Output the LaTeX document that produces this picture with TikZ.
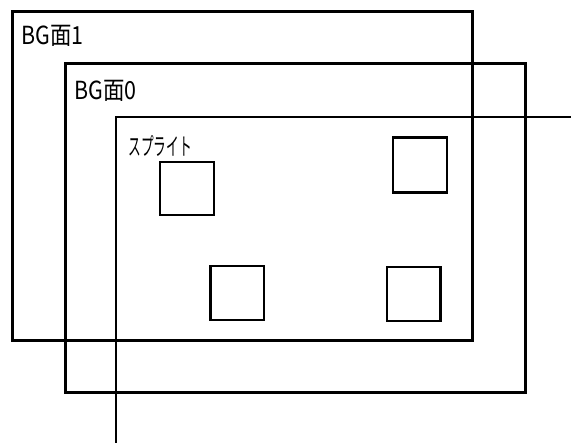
\documentclass[tikz,border=0pt]{standalone}
\usepackage{fontspec}
\setmainfont{Noto Sans CJK JP}
\newfontfamily\jpfont{Noto Sans CJK JP}
\usepackage{graphicx}
\tikzset{
  layerbox/.style={draw=black, line width=3.3bp},
  spriteframe/.style={draw=black, line width=2bp},
  spritebox/.style={draw=black, line width=2.2bp},
  layerlabel/.style={anchor=base west, inner sep=0pt, font=\jpfont\fontsize{25}{25}\selectfont},
  spritelabel/.style={anchor=base west, inner sep=0pt, font=\jpfont\fontsize{24}{24}\selectfont},
}
\begin{document}
\begin{tikzpicture}[x=1bp,y=-1bp]
\useasboundingbox (0,0) rectangle (571,443);
% BG layer 1
\draw[layerbox] (12.3,11.7) rectangle (472.5,340.5);
% BG layer 0
\draw[layerbox] (65.7,63.5) rectangle (525.3,392.3);
% sprite layer frame
\coordinate (sb) at (115.6,443);
\coordinate (sc) at (115.6,117.3);
\coordinate (se) at (571,117.3);
\draw[spriteframe] (sb) -- (sc) -- (se);
% sprites
\draw[spritebox] (160.3,161.7) rectangle (213.7,215.3);
\draw[spritebox] (392.8,137.5) rectangle (447,192.5);
\draw[spritebox] (210.5,265.8) rectangle (264.3,320);
\draw[spritebox] (386.8,266.8) rectangle (440.5,321);
% labels
\node[layerlabel] (l1) at (21.5,45) {\scalebox{0.86}[1]{BG面1}};
\node[layerlabel] (l0) at (74,100) {\scalebox{0.86}[1]{BG面0}};
\node[spritelabel] (ls) at (128.3,155.5) {\scalebox{0.53}[1]{スプライト}};
\end{tikzpicture}
\end{document}
